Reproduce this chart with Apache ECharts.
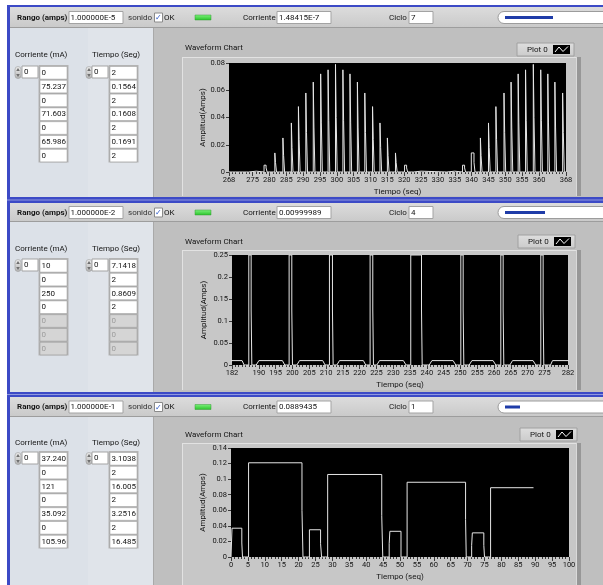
<!DOCTYPE html>
<html><head><meta charset="utf-8">
<script src="https://cdn.jsdelivr.net/npm/echarts@6/dist/echarts.min.js"></script>
<style>html,body{margin:0;padding:0;background:#fff;overflow:hidden}#c{width:603px;height:585px}</style>
</head><body><div id="c"></div>
<script>
// ===================== DATA =====================
// Chart 1 (Rango 1.000000E-5) — pulse train
const chart1XTicks = [268,275,280,285,290,295,300,305,310,315,320,325,330,335,340,345,350,355,360,368];
const chart1YTicks = [0,0.02,0.04,0.06,0.08];
const chart1PulseStart = [278.4,281.6,284.0,286.5,288.6,290.8,293.0,295.2,297.4,299.6,301.8,303.9,306.1,308.3,310.6,312.8,315.0,317.4,320.1,337.3,339.9,342.6,345.0,347.2,349.6,351.7,353.8,356.0,358.3,360.5,362.6,364.7,367.0];
const chart1PulsePeak  = [0.005,0.014,0.025,0.036,0.048,0.058,0.066,0.072,0.075,0.079,0.075,0.072,0.066,0.058,0.048,0.036,0.025,0.014,0.005,0.005,0.014,0.025,0.036,0.048,0.058,0.066,0.072,0.075,0.079,0.075,0.072,0.066,0.058];
const chart1PulseMid   = [0.003,0.007,0.012,0.018,0.024,0.029,0.033,0.036,0.038,0.040,0.038,0.036,0.033,0.029,0.024,0.018,0.012,0.007,0.003,0.003,0.007,0.012,0.018,0.024,0.029,0.033,0.036,0.038,0.040,0.038,0.036,0.033,0.029];
const chart1PulseWidth = [0.6,0.2,0.2,0.2,0.2,0.2,0.2,0.2,0.2,0.2,0.2,0.2,0.2,0.2,0.2,0.2,0.2,0.2,0.6,0.6,0.8,0.2,0.2,0.2,0.2,0.2,0.2,0.2,0.2,0.2,0.2,0.2,0.2];
const chart1LowStart = [273.8,322.7,332.6];
const chart1LowEnd   = [276.1,325.0,335.0];
const chart1LowValue = [0.0006,0.0006,0.0006];

// Chart 2 (Rango 1.000000E-2) — trapezoids (10 mA) and 250 mA spikes
const chart2XTicks = [182,190,195,200,205,210,215,220,225,230,235,240,245,250,255,260,265,270,275,282];
const chart2YTicks = [0,0.05,0.1,0.15,0.2,0.25];
const chart2TrapUpStart   = [181.0,189.2,201.3,213.2,225.1,240.7,252.6,264.7,276.8];
const chart2TrapUpEnd     = [181.8,190.0,202.1,214.0,225.9,241.5,253.4,265.5,277.4];
const chart2TrapDownStart = [185.0,197.0,209.0,221.1,233.0,247.8,259.7,271.6,282.2];
const chart2TrapDownEnd   = [185.6,197.7,209.7,221.8,233.8,248.6,260.5,272.4,283.0];
const chart2TrapLevel     = [0.01,0.01,0.01,0.01,0.01,0.01,0.01,0.01,0.01];
const chart2SpikeStart = [187.0,199.0,211.0,223.1,235.2,250.1,262.0,273.9];
const chart2SpikeEnd   = [187.7,199.8,211.9,223.9,238.4,250.8,262.7,274.6];
const chart2SpikePeak  = [0.25,0.25,0.25,0.25,0.25,0.25,0.25,0.25];
const chart2SpikeMid   = [0.125,0.125,0.125,0.125,0.125,0.125,0.125,0.125];

// Chart 3 (Rango 1.000000E-1) — step levels (time where level starts, level)
const chart3XTicks = [0,5,10,15,20,25,30,35,40,45,50,55,60,65,70,75,80,85,90,95,100];
const chart3YTicks = [0,0.02,0.04,0.06,0.08,0.1,0.12,0.14];
const chart3Time  = [0,0.3,3.2,3.4,5.2,21.0,21.3,23.2,26.5,26.8,28.6,44.6,44.9,46.8,47.0,50.3,52.1,69.4,69.6,71.2,71.4,74.8,75.0,76.8,89.5];
const chart3Value = [0,0.037,0.018,0,0.121,0.060,0,0.035,0.017,0,0.106,0.053,0,0.017,0.033,0,0.096,0.048,0,0.015,0.031,0.015,0,0.089,0.089];

// Front-panel texts
const rangoValues     = ['1.000000E-5','1.000000E-2','1.000000E-1'];
const corrienteValues = ['1.48415E-7','0.00999989','0.0889435'];
const cicloValues     = ['7','4','1'];
const corrienteArrays = [
  ['0','75.237','0','71.603','0','65.986','0'],
  ['10','0','250','0','0','0','0'],
  ['37.240','0','121','0','35.092','0','105.96']
];
const tiempoArrays = [
  ['2','0.1564','2','0.1608','2','0.1691','2'],
  ['7.1418','2','0.8609','2','0','0','0'],
  ['3.1038','2','16.005','2','3.2516','2','16.485']
];
const enabledCounts = [7,4,7];

// ===================== BUILD SERIES =====================
function buildChart1(){
  const ev=[];
  chart1PulseStart.forEach((s,i)=>{const e=s+chart1PulseWidth[i];
    ev.push({t:s,pts:[[s,0],[s,chart1PulsePeak[i]],[e,chart1PulsePeak[i]],[e,chart1PulseMid[i]],[e+0.3,chart1PulseMid[i]],[e+0.3,0]]});});
  chart1LowStart.forEach((s,i)=>{const e=chart1LowEnd[i];
    ev.push({t:s,pts:[[s,0],[s,chart1LowValue[i]],[e,chart1LowValue[i]],[e,0]]});});
  ev.sort((a,b)=>a.t-b.t);
  return [[268,0]].concat(ev.flatMap(e=>e.pts)).concat([[368,0]]);
}
function buildChart2(){
  const ev=[];
  chart2TrapUpStart.forEach((s,i)=>ev.push({t:s,pts:[[s,0],[chart2TrapUpEnd[i],chart2TrapLevel[i]],[chart2TrapDownStart[i],chart2TrapLevel[i]],[chart2TrapDownEnd[i],0]]}));
  chart2SpikeStart.forEach((s,i)=>{const e=chart2SpikeEnd[i],p=chart2SpikePeak[i],m=chart2SpikeMid[i];
    ev.push({t:s,pts:[[s,0],[s,p],[e,p],[e,m],[e+0.2,m],[e+0.2,0]]});});
  ev.sort((a,b)=>a.t-b.t);
  return ev.flatMap(e=>e.pts);
}
function buildChart3(){ return chart3Time.map((t,i)=>[t,chart3Value[i]]); }

// ===================== LAYOUT / GRAPHICS =====================
const FONT='Roboto, "Liberation Sans", sans-serif';
const FS=8;
const BLUE='#3c4ac6';
const G=[];
function R(x,y,w,h,fill,o){o=o||{};G.push({type:'rect',silent:true,z:o.z!=null?o.z:-10,shape:{x:x,y:y,width:w,height:h,r:o.r||0},style:{fill:fill,stroke:o.stroke||null,lineWidth:o.lw||1}});}
function T(x,y,text,o){o=o||{};const st={x:x,y:y,text:text,font:(o.weight||'normal')+' '+(o.size||FS)+'px '+(o.family||FONT),fill:o.color||'#141414',textAlign:o.align||'left',textVerticalAlign:'middle'};
  G.push({type:'text',silent:true,z:o.z!=null?o.z:-6,style:st});}
function PL(points,stroke,o){o=o||{};G.push({type:'polyline',silent:true,z:o.z!=null?o.z:-6,shape:{points:points},style:{stroke:stroke,fill:null,lineWidth:o.lw||1}});}
function PG(points,fill,o){o=o||{};G.push({type:'polygon',silent:true,z:o.z!=null?o.z:-6,shape:{points:points},style:{fill:fill}});}
const grad=(a,b)=>new echarts.graphic.LinearGradient(0,0,0,1,[{offset:0,color:a},{offset:1,color:b}]);

const panels=[
  {toolTop:7,toolBot:28,bodyBot:197,cy:17.5,labelY:55,boxTop:66,chartLabelY:48,frameTop:57,frameBot:196,legendX:517,legendTop:43,prog:48},
  {toolTop:203,toolBot:222,bodyBot:392,cy:212.5,labelY:249,boxTop:259,chartLabelY:242,frameTop:250,frameBot:390,legendX:518,legendTop:235,prog:40},
  {toolTop:397,toolBot:417,bodyBot:585,cy:407,labelY:443,boxTop:452,chartLabelY:435,frameTop:443,frameBot:590,legendX:520,legendTop:428,prog:15}
];

// outer white + blue borders
R(0,0,603,585,'#ffffff',{z:-20});
R(7,5,596,2,BLUE,{z:-9});
R(7,5,3,580,BLUE,{z:-9});
R(7,197,596,6,BLUE,{z:-9}); R(7,199.5,596,1,'#8f98de',{z:-8.9});
R(7,392,596,5,BLUE,{z:-9}); R(7,394,596,1,'#8f98de',{z:-8.9});

panels.forEach((p,k)=>{
  // toolbar
  R(10,p.toolTop,593,p.toolBot-p.toolTop,grad('#dcdcdc','#c9c9c9'));
  R(10,p.toolBot-1,593,1,'#9d9d9d',{z:-9.5});
  // body
  const bh=p.bodyBot-p.toolBot;
  R(10,p.toolBot,593,bh,'#bfbfbf');
  R(10,p.toolBot,78,bh,'#dce1e8',{z:-9.8});
  R(88,p.toolBot,65,bh,'#e0e4ea',{z:-9.8});
  R(153,p.toolBot,1,bh,'#a9a9a9',{z:-9.7});
  // toolbar controls
  const cy=p.cy;
  T(17,cy,'Rango (amps)',{weight:'bold'});
  R(69,cy-6,54,12,'#ffffff',{stroke:'#a3a3a3',z:-8});
  T(70.5,cy,rangoValues[k]);
  T(128,cy,'sonido',{color:'#333'});
  R(154.5,cy-4.5,8,9,'#ffffff',{stroke:'#8a8a8a',z:-8});
  T(155,cy+0.5,'✓',{size:8,family:'"DejaVu Sans"',color:'#2c58c8'});
  T(164,cy,'OK');
  R(195,cy-2.5,16,5,grad('#7df27d','#27c227'),{stroke:'#3a9a3a',lw:0.5,z:-8});
  T(243,cy,'Corriente');
  R(277,cy-6,54,12,'#ffffff',{stroke:'#a3a3a3',z:-8});
  T(279,cy,corrienteValues[k]);
  T(389,cy,'Ciclo');
  R(409,cy-6,24,12,'#ffffff',{stroke:'#a3a3a3',z:-8});
  T(411,cy,cicloValues[k]);
  R(498,cy-6,130,12,'#ffffff',{stroke:'#9c9c9c',r:6,z:-8});
  R(505,cy-1.5,p.prog,3,'#1f3ca8',{z:-7});
  // left arrays
  T(15,p.labelY,'Corriente (mA)');
  T(92,p.labelY,'Tiempo (Seg)');
  [[15,22,40,corrienteArrays[k]],[86,92,110,tiempoArrays[k]]].forEach(c=>{
    const sx=c[0], ix=c[1], ax=c[2], vals=c[3];
    R(sx,p.boxTop+0.5,6,12,grad('#eeeeee','#b4b4b4'),{stroke:'#8e8e8e',lw:0.5,r:3,z:-8});
    PG([[sx+3,p.boxTop+2],[sx+1.2,p.boxTop+5],[sx+4.8,p.boxTop+5]],'#6e6e6e',{z:-7});
    PG([[sx+3,p.boxTop+11],[sx+1.2,p.boxTop+8],[sx+4.8,p.boxTop+8]],'#6e6e6e',{z:-7});
    R(ix,p.boxTop,16,12,'#ffffff',{stroke:'#a3a3a3',z:-8});
    T(ix+2,p.boxTop+6,'0');
    R(ax-1.5,p.boxTop-1,30,7*13.8+1,'#b3b3b3',{z:-8.5});
    vals.forEach((v,i)=>{
      const en=i<enabledCounts[k];
      R(ax,p.boxTop+i*13.8+0.5,27,12.6,en?'#ffffff':'#d5d5d5',{stroke:'#9a9a9a',lw:0.5,z:-8});
      T(ax+1.5,p.boxTop+i*13.8+7,v,{color:en?'#141414':'#9c9c9c'});
    });
  });
  // chart frame and labels
  const fh=p.frameBot-p.frameTop;
  R(182,p.frameTop,397,fh,'#c7c7c7',{z:-9.5});
  R(182,p.frameTop,397,1,'#e2e2e2',{z:-9.4});
  R(182,p.frameTop,1,fh,'#e2e2e2',{z:-9.4});
  R(577,p.frameTop,4,fh,'#979797',{z:-9.4});
  R(576,p.frameTop,1,fh,'#dadada',{z:-9.4});
  T(185,p.chartLabelY,'Waveform Chart');
  R(p.legendX,p.legendTop,57,13,grad('#dedede','#cbcbcb'),{stroke:'#a0a0a0',z:-8});
  T(p.legendX+10,p.legendTop+6.5,'Plot 0');
  R(p.legendX+36,p.legendTop+2,17,9,'#000000',{z:-7});
  PL([[p.legendX+38,p.legendTop+9],[p.legendX+42,p.legendTop+4],[p.legendX+46,p.legendTop+8.5],[p.legendX+51,p.legendTop+3.5]],'#ffffff',{z:-6});
});

// ===================== CHART =====================
const grids=[
  {left:229,top:63,width:337,height:109},
  {left:232,top:255,width:336,height:110},
  {left:231,top:448,width:338,height:109}
].map(g=>Object.assign(g,{show:true,backgroundColor:'#000000',borderWidth:0,containLabel:false,outerBoundsMode:'none'}));

const tickStyle={fontSize:7.5,fontFamily:FONT,color:'#141414'};
const nameStyle={fontSize:8,fontFamily:FONT,color:'#141414'};
function xAxes(i,min,max,ticks){
  return [
    {type:'value',gridIndex:i,position:'bottom',min:min,max:max,interval:1,
     name:'Tiempo (seq)',nameLocation:'middle',nameGap:16,nameMoveOverlap:false,nameTextStyle:nameStyle,
     axisLine:{show:false},splitLine:{show:false},
     axisTick:{show:true,length:2,lineStyle:{color:'#3a3a3a',width:1}},
     axisLabel:Object.assign({margin:4.5,customValues:ticks,hideOverlap:false,showMinLabel:true,showMaxLabel:true},tickStyle)},
    {type:'value',gridIndex:i,position:'bottom',min:min,max:max,
     axisLine:{show:false},splitLine:{show:false},axisLabel:{show:false},
     axisTick:{show:true,length:4,customValues:ticks,lineStyle:{color:'#3a3a3a',width:1}}}
  ];
}
function yAxis(i,max,interval,gap){
  return {type:'value',gridIndex:i,min:0,max:max,interval:interval,
    name:'Amplitud(Amps)',nameLocation:'middle',nameGap:gap,nameRotate:90,nameMoveOverlap:false,nameTextStyle:nameStyle,
    axisLine:{show:false},splitLine:{show:false},
    axisTick:{show:true,length:3,lineStyle:{color:'#3a3a3a'}},
    axisLabel:Object.assign({margin:4,showMinLabel:true,showMaxLabel:true},tickStyle)};
}
const lineStyle={color:'#e6e6e6',width:1};
const option={
  animation:false,
  graphic:{elements:G},
  grid:grids,
  xAxis:[].concat(xAxes(0,268,368,chart1XTicks),xAxes(1,182,282,chart2XTicks),xAxes(2,0,100,chart3XTicks)),
  yAxis:[yAxis(0,0.08,0.02,22),yAxis(1,0.25,0.05,24),yAxis(2,0.14,0.02,24)],
  series:[
    {type:'line',xAxisIndex:0,yAxisIndex:0,data:buildChart1(),showSymbol:false,lineStyle:lineStyle,clip:true},
    {type:'line',xAxisIndex:2,yAxisIndex:1,data:buildChart2(),showSymbol:false,lineStyle:lineStyle,clip:true},
    {type:'line',xAxisIndex:4,yAxisIndex:2,data:buildChart3(),step:'end',showSymbol:false,lineStyle:lineStyle,clip:true}
  ]
};
const chart=echarts.init(document.getElementById('c'),null,{renderer:'canvas',width:603,height:585});
chart.setOption(option);
</script></body></html>
